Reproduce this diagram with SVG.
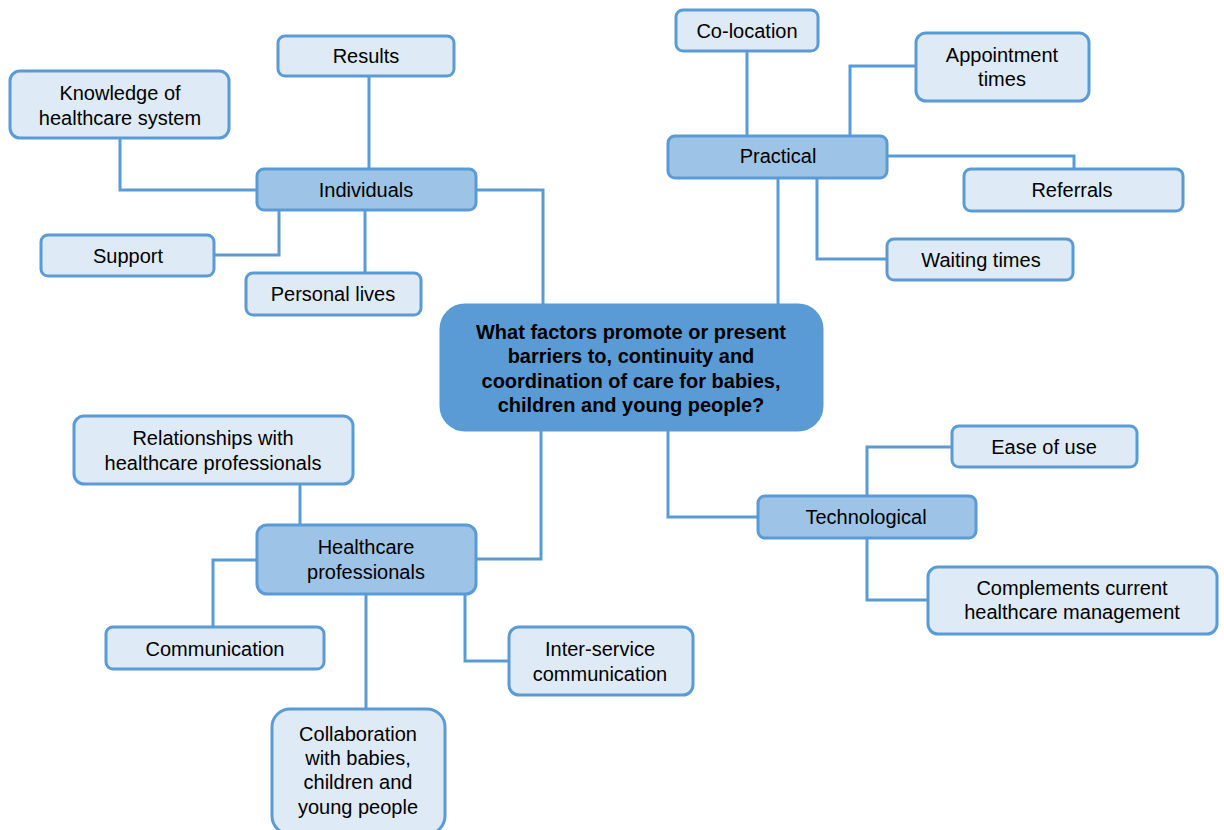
<svg xmlns="http://www.w3.org/2000/svg" width="1224" height="830" viewBox="0 0 1224 830">
<style>
.leaf{fill:#DEEAF6;stroke:#5B9BD5;stroke-width:3}
.cat{fill:#9DC3E6;stroke:#5B9BD5;stroke-width:3}
.ctr{fill:#5B9BD5;stroke:#5B9BD5;stroke-width:3}
text{font-family:"Liberation Sans",Arial,sans-serif;font-size:20px;fill:#000;text-anchor:middle;dominant-baseline:central}
.b{font-weight:bold}
#connectors path{fill:none;stroke:#5B9BD5;stroke-width:3}
</style>
<rect width="1224" height="830" fill="#fff"/>
<g id="connectors">
<path d="M369 76V169"/>
<path d="M120 138V190H257"/>
<path d="M214 255H279V210"/>
<path d="M365 210V273"/>
<path d="M476 190H543V305"/>
<path d="M747 51V136"/>
<path d="M916 66H850V136"/>
<path d="M887 156H1074V169"/>
<path d="M817 178V259H887"/>
<path d="M778 178V305"/>
<path d="M541 430V559H476"/>
<path d="M668 430V517H758"/>
<path d="M300 484V525"/>
<path d="M257 560H213V627"/>
<path d="M366 594V709"/>
<path d="M465 594V661H509"/>
<path d="M952 447H867V496"/>
<path d="M867 538V600H928"/>
</g>
<g id="center"><rect class="ctr" x="441" y="305" width="381" height="125" rx="24"/>
<text class="b" x="631" y="332">What factors promote or present</text>
<text class="b" x="631" y="356">barriers to, continuity and</text>
<text class="b" x="631" y="381">coordination of care for babies,</text>
<text class="b" x="631" y="405">children and young people?</text></g>
<g id="individuals"><rect class="cat" x="257" y="169" width="219" height="41" rx="7"/><text x="366" y="190">Individuals</text></g>
<g id="results"><rect class="leaf" x="278" y="36" width="176" height="40" rx="7"/><text x="366" y="56">Results</text></g>
<g id="knowledge"><rect class="leaf" x="10" y="71" width="219" height="67" rx="10"/><text x="120" y="93">Knowledge of</text><text x="120" y="118">healthcare system</text></g>
<g id="support"><rect class="leaf" x="41" y="235" width="173" height="41" rx="7"/><text x="128" y="256">Support</text></g>
<g id="personal"><rect class="leaf" x="246" y="273" width="175" height="42" rx="7"/><text x="333" y="294">Personal lives</text></g>
<g id="practical"><rect class="cat" x="668" y="136" width="219" height="42" rx="7"/><text x="778" y="156">Practical</text></g>
<g id="colocation"><rect class="leaf" x="676" y="10" width="142" height="41" rx="7"/><text x="747" y="31">Co-location</text></g>
<g id="appointment"><rect class="leaf" x="916" y="33" width="173" height="68" rx="10"/><text x="1002" y="55">Appointment</text><text x="1002" y="79">times</text></g>
<g id="referrals"><rect class="leaf" x="964" y="169" width="219" height="42" rx="7"/><text x="1072" y="190">Referrals</text></g>
<g id="waiting"><rect class="leaf" x="887" y="239" width="186" height="41" rx="7"/><text x="981" y="260">Waiting times</text></g>
<g id="hcp"><rect class="cat" x="257" y="525" width="219" height="69" rx="10"/><text x="366" y="547">Healthcare</text><text x="366" y="572">professionals</text></g>
<g id="relationships"><rect class="leaf" x="74" y="416" width="279" height="68" rx="10"/><text x="213" y="438">Relationships with</text><text x="213" y="463">healthcare professionals</text></g>
<g id="communication"><rect class="leaf" x="106" y="627" width="218" height="42" rx="7"/><text x="215" y="649">Communication</text></g>
<g id="interservice"><rect class="leaf" x="509" y="627" width="184" height="68" rx="10"/><text x="600" y="649">Inter-service</text><text x="600" y="674">communication</text></g>
<g id="collaboration"><rect class="leaf" x="272" y="709" width="173" height="125" rx="18"/><text x="358" y="734">Collaboration</text><text x="358" y="758">with babies,</text><text x="358" y="782">children and</text><text x="358" y="807">young people</text></g>
<g id="technological"><rect class="cat" x="758" y="496" width="218" height="42" rx="7"/><text x="866" y="517">Technological</text></g>
<g id="ease"><rect class="leaf" x="952" y="426" width="185" height="41" rx="7"/><text x="1044" y="447">Ease of use</text></g>
<g id="complements"><rect class="leaf" x="928" y="567" width="289" height="67" rx="10"/><text x="1072" y="588">Complements current</text><text x="1072" y="612">healthcare management</text></g>
</svg>
